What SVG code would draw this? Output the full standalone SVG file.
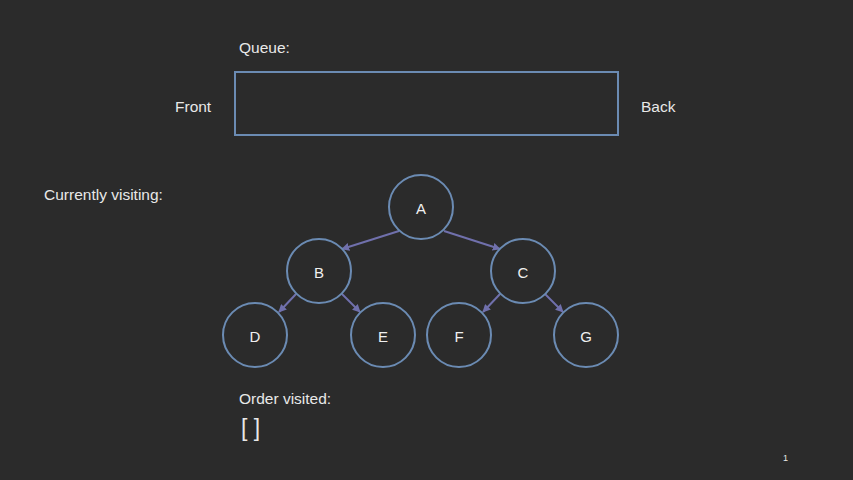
<svg xmlns="http://www.w3.org/2000/svg" width="853" height="480" viewBox="0 0 853 480">
<style>
.t{font-family:"Liberation Sans",Arial,sans-serif;fill:#e8e8e8;font-size:15.5px}
.n{fill:#2b2b2b;stroke:#6b8bb3;stroke-width:2}
.nl{font-family:"Liberation Sans",Arial,sans-serif;fill:#f0f0f0;font-size:15px;text-anchor:middle;dominant-baseline:central}
.e{stroke:#7070ac;stroke-width:2;fill:none;marker-end:url(#ah)}
</style>
<defs>
<marker id="ah" viewBox="0 0 10 10" refX="9" refY="5" markerWidth="4" markerHeight="4" orient="auto">
<path d="M0,0 L10,5 L0,10 z" fill="#7070ac"/>
</marker>
</defs>
<rect width="853" height="480" fill="#2b2b2b"/>
<text class="t" x="239" y="53">Queue:</text>
<g id="queue"><rect x="235" y="72" width="383" height="63" fill="none" stroke="#6b8bb3" stroke-width="2"/></g>
<text class="t" x="175" y="112">Front</text>
<text class="t" x="641" y="112">Back</text>
<text class="t" x="44" y="200">Currently visiting:</text>
<text class="t" x="239" y="404">Order visited:</text>
<text class="t" x="241" y="436" style="font-size:23px">[ ]</text>
<text class="t" x="783" y="461" style="font-size:9px">1</text>
<g id="edges">
<line class="e" x1="399" y1="231" x2="342" y2="249"/>
<line class="e" x1="444" y1="231" x2="500" y2="249"/>
<line class="e" x1="296" y1="294" x2="279" y2="312"/>
<line class="e" x1="342" y1="294" x2="360" y2="312"/>
<line class="e" x1="500" y1="294" x2="483" y2="312"/>
<line class="e" x1="545" y1="294" x2="563" y2="312"/>
</g>
<g id="A"><circle class="n" cx="421" cy="207" r="32"/><text class="nl" x="421" y="208">A</text></g>
<g id="B"><circle class="n" cx="319" cy="271" r="32"/><text class="nl" x="319" y="272">B</text></g>
<g id="C"><circle class="n" cx="523" cy="271" r="32"/><text class="nl" x="523" y="272">C</text></g>
<g id="D"><circle class="n" cx="255" cy="335" r="32"/><text class="nl" x="255" y="336">D</text></g>
<g id="E"><circle class="n" cx="383" cy="335" r="32"/><text class="nl" x="383" y="336">E</text></g>
<g id="F"><circle class="n" cx="459" cy="335" r="32"/><text class="nl" x="459" y="336">F</text></g>
<g id="G"><circle class="n" cx="586" cy="335" r="32"/><text class="nl" x="586" y="336">G</text></g>
</svg>
